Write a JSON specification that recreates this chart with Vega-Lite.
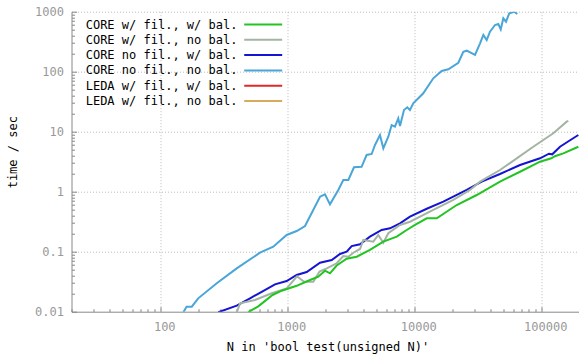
{
  "$schema": "https://vega.github.io/schema/vega-lite/v6.json",
  "width": 508,
  "height": 300,
  "autosize": {"type": "none"},
  "padding": {"left": 71.5, "top": 11.7, "right": 0, "bottom": 42.3},
  "config": {
    "view": {"stroke": null},
    "font": "DejaVu Sans Mono",
    "axis": {
      "domainColor": "#888888",
      "tickColor": "#888888",
      "gridColor": "#bbbbbb",
      "gridDash": [1, 2],
      "labelColor": "#999999",
      "labelFont": "DejaVu Sans Mono",
      "labelFontSize": 12,
      "labelOverlap": false,
      "labelFlush": false,
      "titleFont": "DejaVu Sans Mono",
      "titleFontSize": 12,
      "titleFontWeight": "normal",
      "titleColor": "#000000"
    }
  },
  "data": {
    "values": [
      {"s": "CORE no fil., no bal.", "n": 152, "t": 0.0098},
      {"s": "CORE no fil., no bal.", "n": 161, "t": 0.0121},
      {"s": "CORE no fil., no bal.", "n": 177, "t": 0.0121},
      {"s": "CORE no fil., no bal.", "n": 199, "t": 0.0167},
      {"s": "CORE no fil., no bal.", "n": 280, "t": 0.030},
      {"s": "CORE no fil., no bal.", "n": 400, "t": 0.0528},
      {"s": "CORE no fil., no bal.", "n": 610, "t": 0.0962},
      {"s": "CORE no fil., no bal.", "n": 776, "t": 0.121},
      {"s": "CORE no fil., no bal.", "n": 989, "t": 0.190},
      {"s": "CORE no fil., no bal.", "n": 1186, "t": 0.221},
      {"s": "CORE no fil., no bal.", "n": 1380, "t": 0.268},
      {"s": "CORE no fil., no bal.", "n": 1811, "t": 0.826},
      {"s": "CORE no fil., no bal.", "n": 1982, "t": 0.906},
      {"s": "CORE no fil., no bal.", "n": 2169, "t": 0.616},
      {"s": "CORE no fil., no bal.", "n": 2523, "t": 1.07},
      {"s": "CORE no fil., no bal.", "n": 2762, "t": 1.57},
      {"s": "CORE no fil., no bal.", "n": 3027, "t": 1.57},
      {"s": "CORE no fil., no bal.", "n": 3352, "t": 2.55},
      {"s": "CORE no fil., no bal.", "n": 3846, "t": 2.6},
      {"s": "CORE no fil., no bal.", "n": 4215, "t": 4.09},
      {"s": "CORE no fil., no bal.", "n": 4620, "t": 4.25},
      {"s": "CORE no fil., no bal.", "n": 4906, "t": 6.0},
      {"s": "CORE no fil., no bal.", "n": 5370, "t": 8.8},
      {"s": "CORE no fil., no bal.", "n": 5706, "t": 5.28},
      {"s": "CORE no fil., no bal.", "n": 6245, "t": 8.25},
      {"s": "CORE no fil., no bal.", "n": 6637, "t": 12.9},
      {"s": "CORE no fil., no bal.", "n": 7046, "t": 12.1},
      {"s": "CORE no fil., no bal.", "n": 7480, "t": 16.7},
      {"s": "CORE no fil., no bal.", "n": 7720, "t": 12.4},
      {"s": "CORE no fil., no bal.", "n": 8300, "t": 23.0},
      {"s": "CORE no fil., no bal.", "n": 8810, "t": 25.5},
      {"s": "CORE no fil., no bal.", "n": 9240, "t": 23.0},
      {"s": "CORE no fil., no bal.", "n": 9820, "t": 29.7},
      {"s": "CORE no fil., no bal.", "n": 11770, "t": 43.6},
      {"s": "CORE no fil., no bal.", "n": 14120, "t": 77.6},
      {"s": "CORE no fil., no bal.", "n": 16440, "t": 103},
      {"s": "CORE no fil., no bal.", "n": 18540, "t": 110},
      {"s": "CORE no fil., no bal.", "n": 22230, "t": 141},
      {"s": "CORE no fil., no bal.", "n": 24330, "t": 215},
      {"s": "CORE no fil., no bal.", "n": 25880, "t": 224},
      {"s": "CORE no fil., no bal.", "n": 30080, "t": 190},
      {"s": "CORE no fil., no bal.", "n": 32960, "t": 297},
      {"s": "CORE no fil., no bal.", "n": 34990, "t": 409},
      {"s": "CORE no fil., no bal.", "n": 37170, "t": 337},
      {"s": "CORE no fil., no bal.", "n": 39460, "t": 464},
      {"s": "CORE no fil., no bal.", "n": 43240, "t": 600},
      {"s": "CORE no fil., no bal.", "n": 45920, "t": 624},
      {"s": "CORE no fil., no bal.", "n": 47970, "t": 509},
      {"s": "CORE no fil., no bal.", "n": 50250, "t": 776},
      {"s": "CORE no fil., no bal.", "n": 52770, "t": 681},
      {"s": "CORE no fil., no bal.", "n": 56000, "t": 940},
      {"s": "CORE no fil., no bal.", "n": 61330, "t": 1000},
      {"s": "CORE no fil., no bal.", "n": 64770, "t": 916},

      {"s": "CORE no fil., w/ bal.", "n": 286, "t": 0.0098},
      {"s": "CORE no fil., w/ bal.", "n": 400, "t": 0.0126},
      {"s": "CORE no fil., w/ bal.", "n": 509, "t": 0.0167},
      {"s": "CORE no fil., w/ bal.", "n": 629, "t": 0.0215},
      {"s": "CORE no fil., w/ bal.", "n": 800, "t": 0.0286},
      {"s": "CORE no fil., w/ bal.", "n": 989, "t": 0.0325},
      {"s": "CORE no fil., w/ bal.", "n": 1186, "t": 0.0409},
      {"s": "CORE no fil., w/ bal.", "n": 1422, "t": 0.0459},
      {"s": "CORE no fil., w/ bal.", "n": 1811, "t": 0.0656},
      {"s": "CORE no fil., w/ bal.", "n": 2239, "t": 0.0728},
      {"s": "CORE no fil., w/ bal.", "n": 2600, "t": 0.0916},
      {"s": "CORE no fil., w/ bal.", "n": 2937, "t": 0.100},
      {"s": "CORE no fil., w/ bal.", "n": 3214, "t": 0.124},
      {"s": "CORE no fil., w/ bal.", "n": 3741, "t": 0.133},
      {"s": "CORE no fil., w/ bal.", "n": 4477, "t": 0.178},
      {"s": "CORE no fil., w/ bal.", "n": 5536, "t": 0.230},
      {"s": "CORE no fil., w/ bal.", "n": 6437, "t": 0.245},
      {"s": "CORE no fil., w/ bal.", "n": 7720, "t": 0.297},
      {"s": "CORE no fil., w/ bal.", "n": 9250, "t": 0.383},
      {"s": "CORE no fil., w/ bal.", "n": 12540, "t": 0.52},
      {"s": "CORE no fil., w/ bal.", "n": 16930, "t": 0.681},
      {"s": "CORE no fil., w/ bal.", "n": 25880, "t": 1.07},
      {"s": "CORE no fil., w/ bal.", "n": 33960, "t": 1.47},
      {"s": "CORE no fil., w/ bal.", "n": 47320, "t": 1.97},
      {"s": "CORE no fil., w/ bal.", "n": 68040, "t": 2.79},
      {"s": "CORE no fil., w/ bal.", "n": 97770, "t": 3.60},
      {"s": "CORE no fil., w/ bal.", "n": 115000, "t": 4.3},
      {"s": "CORE no fil., w/ bal.", "n": 122000, "t": 4.2},
      {"s": "CORE no fil., w/ bal.", "n": 140500, "t": 5.62},
      {"s": "CORE no fil., w/ bal.", "n": 165000, "t": 7.0},
      {"s": "CORE no fil., w/ bal.", "n": 195800, "t": 8.81},

      {"s": "CORE w/ fil., no bal.", "n": 400, "t": 0.0098},
      {"s": "CORE w/ fil., no bal.", "n": 425, "t": 0.0138},
      {"s": "CORE w/ fil., no bal.", "n": 557, "t": 0.0157},
      {"s": "CORE w/ fil., no bal.", "n": 754, "t": 0.0203},
      {"s": "CORE w/ fil., no bal.", "n": 989, "t": 0.0245},
      {"s": "CORE w/ fil., no bal.", "n": 1194, "t": 0.0389},
      {"s": "CORE w/ fil., no bal.", "n": 1356, "t": 0.0316},
      {"s": "CORE w/ fil., no bal.", "n": 1604, "t": 0.0316},
      {"s": "CORE w/ fil., no bal.", "n": 1795, "t": 0.0468},
      {"s": "CORE w/ fil., no bal.", "n": 2046, "t": 0.0528},
      {"s": "CORE w/ fil., no bal.", "n": 2449, "t": 0.0641},
      {"s": "CORE w/ fil., no bal.", "n": 2762, "t": 0.0848},
      {"s": "CORE w/ fil., no bal.", "n": 3027, "t": 0.0826},
      {"s": "CORE w/ fil., no bal.", "n": 3312, "t": 0.0962},
      {"s": "CORE w/ fil., no bal.", "n": 3741, "t": 0.111},
      {"s": "CORE w/ fil., no bal.", "n": 3971, "t": 0.157},
      {"s": "CORE w/ fil., no bal.", "n": 4756, "t": 0.147},
      {"s": "CORE w/ fil., no bal.", "n": 5210, "t": 0.190},
      {"s": "CORE w/ fil., no bal.", "n": 5706, "t": 0.141},
      {"s": "CORE w/ fil., no bal.", "n": 6245, "t": 0.203},
      {"s": "CORE w/ fil., no bal.", "n": 7720, "t": 0.279},
      {"s": "CORE w/ fil., no bal.", "n": 9250, "t": 0.316},
      {"s": "CORE w/ fil., no bal.", "n": 14120, "t": 0.496},
      {"s": "CORE w/ fil., no bal.", "n": 20290, "t": 0.728},
      {"s": "CORE w/ fil., no bal.", "n": 27460, "t": 1.07},
      {"s": "CORE w/ fil., no bal.", "n": 32960, "t": 1.47},
      {"s": "CORE w/ fil., no bal.", "n": 47320, "t": 2.30},
      {"s": "CORE w/ fil., no bal.", "n": 64080, "t": 3.60},
      {"s": "CORE w/ fil., no bal.", "n": 86540, "t": 5.62},
      {"s": "CORE w/ fil., no bal.", "n": 124400, "t": 9.40},
      {"s": "CORE w/ fil., no bal.", "n": 158500, "t": 14.7},
      {"s": "CORE w/ fil., no bal.", "n": 163300, "t": 15.2},

      {"s": "CORE w/ fil., w/ bal.", "n": 493, "t": 0.0098},
      {"s": "CORE w/ fil., w/ bal.", "n": 591, "t": 0.0123},
      {"s": "CORE w/ fil., w/ bal.", "n": 766, "t": 0.019},
      {"s": "CORE w/ fil., w/ bal.", "n": 904, "t": 0.0224},
      {"s": "CORE w/ fil., w/ bal.", "n": 1186, "t": 0.027},
      {"s": "CORE w/ fil., w/ bal.", "n": 1510, "t": 0.0338},
      {"s": "CORE w/ fil., w/ bal.", "n": 1755, "t": 0.0383},
      {"s": "CORE w/ fil., w/ bal.", "n": 1982, "t": 0.0482},
      {"s": "CORE w/ fil., w/ bal.", "n": 2169, "t": 0.0436},
      {"s": "CORE w/ fil., w/ bal.", "n": 2449, "t": 0.0589},
      {"s": "CORE w/ fil., w/ bal.", "n": 2937, "t": 0.0762},
      {"s": "CORE w/ fil., w/ bal.", "n": 3523, "t": 0.0826},
      {"s": "CORE w/ fil., w/ bal.", "n": 4477, "t": 0.107},
      {"s": "CORE w/ fil., w/ bal.", "n": 5706, "t": 0.147},
      {"s": "CORE w/ fil., w/ bal.", "n": 7278, "t": 0.178},
      {"s": "CORE w/ fil., w/ bal.", "n": 8715, "t": 0.230},
      {"s": "CORE w/ fil., w/ bal.", "n": 10140, "t": 0.279},
      {"s": "CORE w/ fil., w/ bal.", "n": 12540, "t": 0.360},
      {"s": "CORE w/ fil., w/ bal.", "n": 15030, "t": 0.360},
      {"s": "CORE w/ fil., w/ bal.", "n": 21590, "t": 0.600},
      {"s": "CORE w/ fil., w/ bal.", "n": 31030, "t": 0.881},
      {"s": "CORE w/ fil., w/ bal.", "n": 47320, "t": 1.47},
      {"s": "CORE w/ fil., w/ bal.", "n": 68040, "t": 2.15},
      {"s": "CORE w/ fil., w/ bal.", "n": 97770, "t": 3.16},
      {"s": "CORE w/ fil., w/ bal.", "n": 120000, "t": 3.6},
      {"s": "CORE w/ fil., w/ bal.", "n": 128000, "t": 3.9},
      {"s": "CORE w/ fil., w/ bal.", "n": 149200, "t": 4.36},
      {"s": "CORE w/ fil., w/ bal.", "n": 195800, "t": 5.62}
    ]
  },
  "mark": {"type": "line", "strokeWidth": 2, "clip": true},
  "encoding": {
    "x": {
      "field": "n",
      "type": "quantitative",
      "scale": {"type": "log", "domain": [20, 200000], "nice": false},
      "axis": {
        "values": [20, 30, 40, 50, 60, 70, 80, 90, 100, 200, 300, 400, 500, 600, 700, 800, 900, 1000, 2000, 3000, 4000, 5000, 6000, 7000, 8000, 9000, 10000, 20000, 30000, 40000, 50000, 60000, 70000, 80000, 90000, 100000, 200000],
        "labelExpr": "indexof([100,1000,10000,100000], datum.value) >= 0 ? format(datum.value, 'd') : ''",
        "tickSize": {"condition": {"test": "indexof([100,1000,10000,100000], datum.value) >= 0", "value": -5}, "value": -3},
        "gridOpacity": {"condition": {"test": "indexof([100,1000,10000,100000], datum.value) >= 0", "value": 1}, "value": 0},
        "labelPadding": 15,
        "labelOffset": 4,
        "title": "N in 'bool test(unsigned N)'",
        "titleBaseline": "middle",
        "titleX": 256,
        "titleY": 35
      }
    },
    "y": {
      "field": "t",
      "type": "quantitative",
      "scale": {"type": "log", "domain": [0.01, 1000], "nice": false},
      "axis": {
        "values": [0.01, 0.02, 0.03, 0.04, 0.05, 0.06, 0.07, 0.08, 0.09, 0.1, 0.2, 0.3, 0.4, 0.5, 0.6, 0.7, 0.8, 0.9, 1, 2, 3, 4, 5, 6, 7, 8, 9, 10, 20, 30, 40, 50, 60, 70, 80, 90, 100, 200, 300, 400, 500, 600, 700, 800, 900, 1000],
        "labelExpr": "indexof([0.01,0.1,1,10,100,1000], datum.value) >= 0 ? (datum.value >= 1 ? format(datum.value, 'd') : format(datum.value, '.2~f')) : ''",
        "tickSize": {"condition": {"test": "indexof([0.01,0.1,1,10,100,1000], datum.value) >= 0", "value": -5}, "value": -3},
        "gridOpacity": {"condition": {"test": "indexof([0.1,1,10,100,1000], datum.value) >= 0", "value": 1}, "value": 0},
        "labelPadding": 13,
        "title": "time / sec",
        "titleBaseline": "middle",
        "titleX": -59,
        "titleY": 140
      }
    },
    "color": {
      "field": "s",
      "type": "nominal",
      "scale": {
        "domain": ["CORE w/ fil., w/ bal.", "CORE w/ fil., no bal.", "CORE no fil., w/ bal.", "CORE no fil., no bal.", "LEDA w/ fil., w/ bal.", "LEDA w/ fil., no bal."],
        "range": ["#22c422", "#a4b4a4", "#1414d2", "#4aa6d8", "#e02828", "#d8aa5c"]
      },
      "legend": {
        "orient": "none",
        "legendX": 184.2,
        "legendY": 5.3,
        "title": null,
        "padding": 0,
        "symbolType": "M-3,0H3",
        "symbolSize": 160,
        "symbolStrokeWidth": 2,
        "labelAlign": "right",
        "labelOffset": -33.3,
        "labelFont": "DejaVu Sans Mono",
        "labelFontSize": 12,
        "labelColor": "#000000",
        "labelLimit": 0,
        "rowPadding": 1.3
      }
    }
  }
}
